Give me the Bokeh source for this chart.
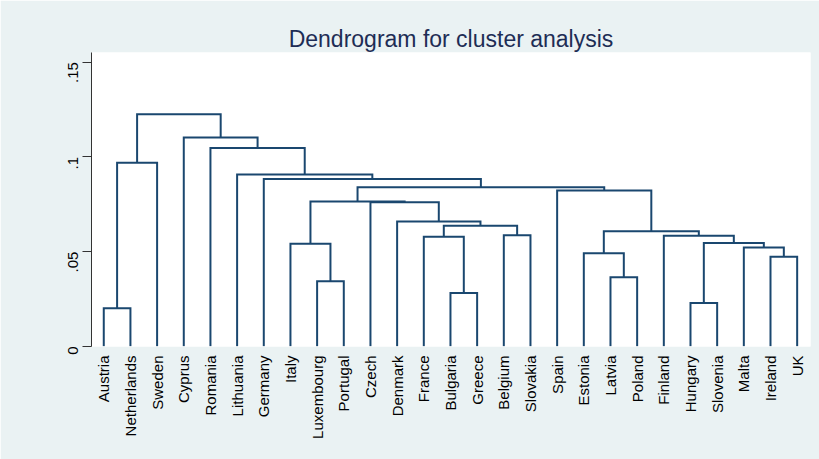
import math
from bokeh.plotting import figure
from bokeh.models import Range1d, FixedTicker
from bokeh.embed import file_html
from bokeh.resources import INLINE

# ---- data ----
leaves = ["Austria", "Netherlands", "Sweden", "Cyprus", "Romania", "Lithuania",
          "Germany", "Italy", "Luxembourg", "Portugal", "Czech", "Denmark",
          "France", "Bulgaria", "Greece", "Belgium", "Slovakia", "Spain",
          "Estonia", "Latvia", "Poland", "Finland", "Hungary", "Slovenia",
          "Malta", "Ireland", "UK"]

# linkage: cluster ids 0..26 are leaves, new clusters get ids 27, 28, ...
merge_left = [0, 22, 13, 8, 19, 25, 18, 24, 28, 7, 12, 21, 15, 33, 37, 11,
              10, 36, 17, 44, 6, 5, 27, 4, 3, 49]
merge_right = [1, 23, 14, 9, 20, 26, 31, 32, 34, 30, 29, 35, 16, 38, 39, 41,
               42, 43, 40, 45, 46, 47, 2, 48, 50, 51]
merge_height = [0.0201, 0.0228, 0.0281, 0.0344, 0.0364, 0.0473, 0.0491, 0.0521,
                0.0546, 0.0542, 0.0579, 0.0583, 0.0586, 0.0607, 0.0636, 0.0659,
                0.0760, 0.0765, 0.0822, 0.0840, 0.0883, 0.0907, 0.0969, 0.1047,
                0.1102, 0.1225]

y_ticks = [0, 0.05, 0.10, 0.15]
y_tick_labels = ["0", ".05", ".1", ".15"]

# ---- layout of the tree ----
pos = {i: float(i + 1) for i in range(len(leaves))}
hgt = {i: 0.0 for i in range(len(leaves))}
xs, ys = [], []
n = len(leaves)
for k, (a, b, h) in enumerate(zip(merge_left, merge_right, merge_height)):
    xa, xb = pos[a], pos[b]
    xs.append([xa, xa, xb, xb])
    ys.append([hgt[a], h, h, hgt[b]])
    pos[n + k] = (xa + xb) / 2.0
    hgt[n + k] = h

BG = "#EAF2F3"
NAVY = "#1a476f"
FONT = "Liberation Sans"

p = figure(width=819, height=459, output_backend="svg", toolbar_location=None,
           x_range=Range1d(0.54, 27.5), y_range=Range1d(-0.0001, 0.1551),
           min_border_left=91, min_border_right=9, min_border_top=52,
           min_border_bottom=113)
p.border_fill_color = BG
p.background_fill_color = "white"
p.outline_line_color = None
p.xgrid.visible = False
p.ygrid.visible = False

p.title.text = "Dendrogram for cluster analysis"
p.title.align = "center"
p.title.text_font = FONT
p.title.text_font_size = "23px"
p.title.text_font_style = "normal"
p.title.text_color = "#1e2d55"
p.title.standoff = 2

p.multi_line(xs=xs, ys=ys, line_color=NAVY, line_width=2, line_join="miter")

# x axis
p.xaxis.ticker = FixedTicker(ticks=[i + 1 for i in range(n)])
p.xaxis.major_label_overrides = {i + 1: name for i, name in enumerate(leaves)}
p.xaxis.major_label_orientation = math.pi / 2
p.xaxis.axis_line_color = None
p.xaxis.major_tick_line_color = None
p.xaxis.minor_tick_line_color = None
p.xaxis.major_label_standoff = 3
p.xaxis.major_label_text_font = FONT
p.xaxis.major_label_text_font_size = "15px"
p.xaxis.major_label_text_color = "black"

# y axis
p.yaxis.ticker = FixedTicker(ticks=y_ticks)
p.yaxis.major_label_overrides = {t: l for t, l in zip(y_ticks, y_tick_labels)}
p.yaxis.major_label_orientation = math.pi / 2
p.yaxis.axis_line_color = "#333333"
p.yaxis.major_tick_line_color = "#333333"
p.yaxis.major_tick_out = 9
p.yaxis.major_tick_in = 0
p.yaxis.minor_tick_line_color = None
p.yaxis.major_label_standoff = 9
p.yaxis.major_label_text_font = FONT
p.yaxis.major_label_text_font_size = "15px"
p.yaxis.major_label_text_color = "black"

open("out.html", "w").write(file_html(p, INLINE))
